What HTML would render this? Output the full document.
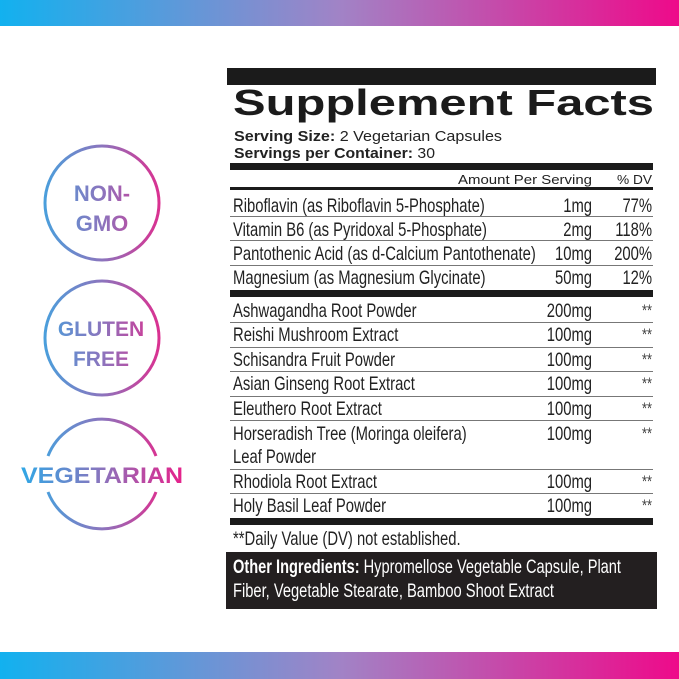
<!DOCTYPE html>
<html><head><meta charset="utf-8"><style>
html,body{margin:0;padding:0;background:#fff;}
svg{display:block;}
</style></head><body>
<svg width="679" height="679" viewBox="0 0 679 679" xmlns="http://www.w3.org/2000/svg" font-family="Liberation Sans, sans-serif">
<defs>
<linearGradient id="bar" x1="0" y1="0" x2="1" y2="0">
<stop offset="0" stop-color="#12b1ef"/><stop offset="0.5" stop-color="#a183c6"/><stop offset="1" stop-color="#ee0a8a"/>
</linearGradient>
<linearGradient id="c" x1="40" y1="0" x2="165" y2="0" gradientUnits="userSpaceOnUse">
<stop offset="0" stop-color="#45a2de"/><stop offset="0.5" stop-color="#8c74bd"/><stop offset="1" stop-color="#e22a8c"/>
</linearGradient>
<linearGradient id="v" x1="20" y1="0" x2="184" y2="0" gradientUnits="userSpaceOnUse">
<stop offset="0" stop-color="#2fa8e6"/><stop offset="0.5" stop-color="#8a74bd"/><stop offset="1" stop-color="#e8208a"/>
</linearGradient>
</defs>
<rect x="0" y="0" width="679" height="26" fill="url(#bar)"/>
<rect x="0" y="652" width="679" height="27" fill="url(#bar)"/>

<circle cx="102" cy="203" r="57" fill="none" stroke="url(#c)" stroke-width="3"/>
<text x="102" y="201" text-anchor="middle" font-size="22" font-weight="bold" fill="url(#c)">NON-</text>
<text x="102" y="231" text-anchor="middle" font-size="22" font-weight="bold" fill="url(#c)">GMO</text>
<circle cx="102" cy="338" r="57" fill="none" stroke="url(#c)" stroke-width="3"/>
<text x="101" y="336" text-anchor="middle" font-size="21" font-weight="bold" fill="url(#c)">GLUTEN</text>
<text x="101" y="366" text-anchor="middle" font-size="21" font-weight="bold" fill="url(#c)">FREE</text>
<path d="M 48 456 A 58 58 0 0 1 156 456" fill="none" stroke="url(#c)" stroke-width="3"/>
<path d="M 48 492 A 58 58 0 0 0 156 492" fill="none" stroke="url(#c)" stroke-width="3"/>
<text x="21" y="483" font-size="22" font-weight="bold" fill="url(#v)" textLength="162" lengthAdjust="spacingAndGlyphs">VEGETARIAN</text>

<rect x="227" y="68" width="429" height="17" fill="#1b1b1b"/>
<text x="233" y="115" font-size="36" font-weight="bold" fill="#1b1b1b" textLength="421" lengthAdjust="spacingAndGlyphs">Supplement Facts</text>
<text x="234" y="141" font-size="15" fill="#222" textLength="268" lengthAdjust="spacingAndGlyphs"><tspan font-weight="bold">Serving Size:</tspan> 2 Vegetarian Capsules</text>
<text x="234" y="158" font-size="15" fill="#222" textLength="201" lengthAdjust="spacingAndGlyphs"><tspan font-weight="bold">Servings per Container:</tspan> 30</text>
<rect x="230" y="163" width="423" height="7" fill="#1b1b1b"/>
<text x="458" y="184" font-size="13" fill="#222" textLength="134" lengthAdjust="spacingAndGlyphs">Amount Per Serving</text>
<text x="617" y="184" font-size="13" fill="#222" textLength="35" lengthAdjust="spacingAndGlyphs">% DV</text>
<rect x="230" y="187" width="423" height="3" fill="#1b1b1b"/>

<g fill="#777">
<rect x="230" y="216" width="423" height="1"/>
<rect x="230" y="240" width="423" height="1"/>
<rect x="230" y="265" width="423" height="1"/>
<rect x="230" y="322" width="423" height="1"/>
<rect x="230" y="347" width="423" height="1"/>
<rect x="230" y="371" width="423" height="1"/>
<rect x="230" y="396" width="423" height="1"/>
<rect x="230" y="420" width="423" height="1"/>
<rect x="230" y="469" width="423" height="1"/>
<rect x="230" y="493" width="423" height="1"/>
</g>
<rect x="230" y="290" width="423" height="7" fill="#1b1b1b"/>
<rect x="230" y="518" width="423" height="7" fill="#1b1b1b"/>

<g transform="scale(0.76,1)" font-size="19.5" fill="#222">
<text x="306.6" y="212">Riboflavin (as Riboflavin 5-Phosphate)</text>
<text x="306.6" y="236">Vitamin B6 (as Pyridoxal 5-Phosphate)</text>
<text x="306.6" y="260">Pantothenic Acid (as d-Calcium Pantothenate)</text>
<text x="306.6" y="284">Magnesium (as Magnesium Glycinate)</text>
<text x="306.6" y="317">Ashwagandha Root Powder</text>
<text x="306.6" y="341">Reishi Mushroom Extract</text>
<text x="306.6" y="366">Schisandra Fruit Powder</text>
<text x="306.6" y="390">Asian Ginseng Root Extract</text>
<text x="306.6" y="415">Eleuthero Root Extract</text>
<text x="306.6" y="440">Horseradish Tree (Moringa oleifera)</text>
<text x="306.6" y="463">Leaf Powder</text>
<text x="306.6" y="488">Rhodiola Root Extract</text>
<text x="306.6" y="512">Holy Basil Leaf Powder</text>
<g text-anchor="end">
<text x="779" y="212">1mg</text><text x="858" y="212">77%</text>
<text x="779" y="236">2mg</text><text x="858" y="236">118%</text>
<text x="779" y="260">10mg</text><text x="858" y="260">200%</text>
<text x="779" y="284">50mg</text><text x="858" y="284">12%</text>
<text x="779" y="317">200mg</text>
<text x="779" y="341">100mg</text>
<text x="779" y="366">100mg</text>
<text x="779" y="390">100mg</text>
<text x="779" y="415">100mg</text>
<text x="779" y="440">100mg</text>
<text x="779" y="488">100mg</text>
<text x="779" y="512">100mg</text>
</g>
<g text-anchor="end" font-size="17" fill="#444">
<text x="858" y="316">**</text><text x="858" y="340">**</text><text x="858" y="365">**</text>
<text x="858" y="389">**</text><text x="858" y="414">**</text><text x="858" y="439">**</text>
<text x="858" y="487">**</text><text x="858" y="511">**</text>
</g>
<text x="306.6" y="545">**Daily Value (DV) not established.</text>
</g>

<rect x="226" y="552" width="431" height="57" fill="#231f20"/>
<text x="233" y="573" font-size="19" fill="#fff" textLength="388" lengthAdjust="spacingAndGlyphs"><tspan font-weight="bold">Other Ingredients:</tspan> Hypromellose Vegetable Capsule, Plant</text>
<text x="233" y="597" font-size="19" fill="#fff" textLength="321" lengthAdjust="spacingAndGlyphs">Fiber, Vegetable Stearate, Bamboo Shoot Extract</text>
</svg>
</body></html>
